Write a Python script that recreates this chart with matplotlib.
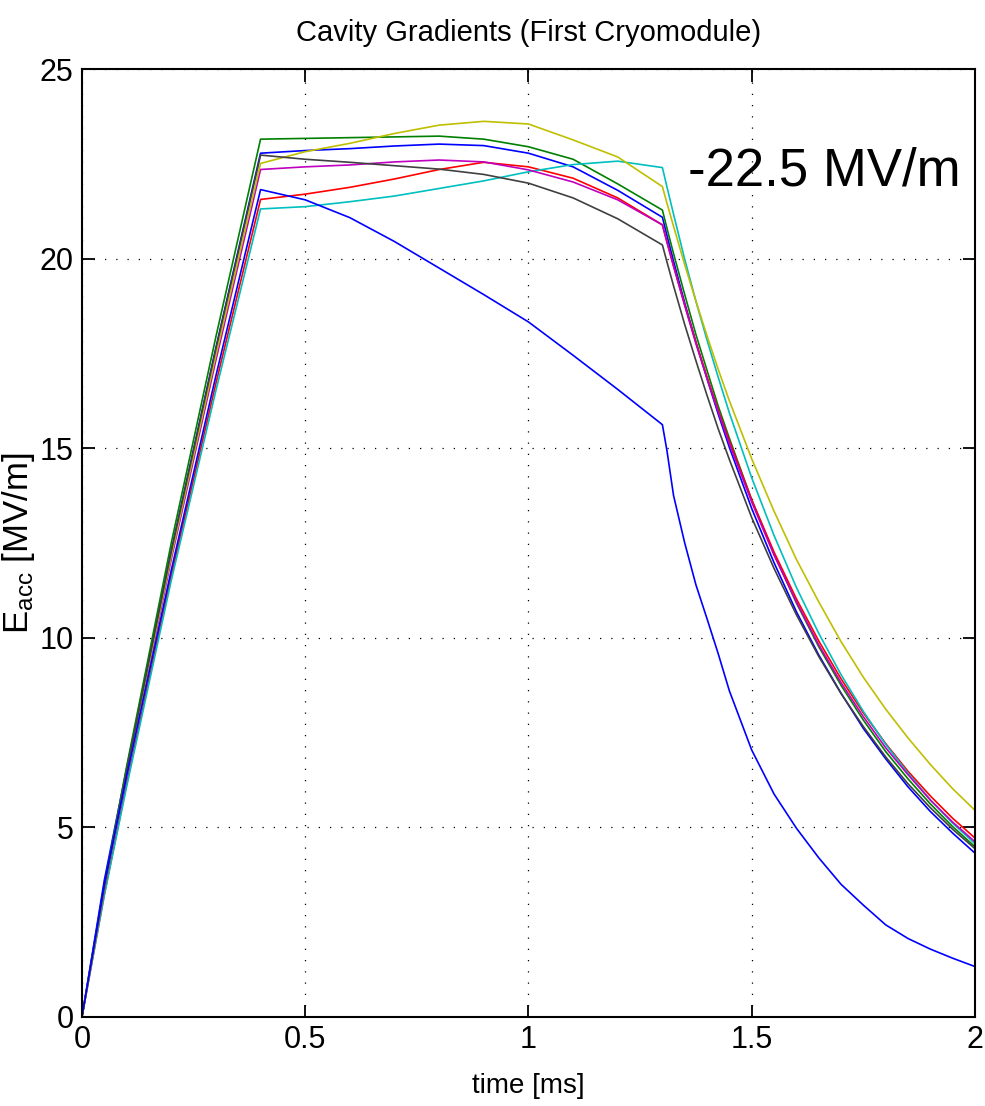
import matplotlib
matplotlib.use("Agg")
import matplotlib.pyplot as plt

plt.rcParams['font.family'] = ['Liberation Sans', 'DejaVu Sans']
plt.rcParams['mathtext.default'] = 'regular'

# sample times [ms]
time_ms = [0, 0.05, 0.1, 0.2, 0.3, 0.4, 0.5, 0.6, 0.7, 0.8, 0.9, 1.0, 1.1, 1.2, 1.3,
           1.31, 1.325, 1.35, 1.375, 1.4, 1.425, 1.45, 1.5, 1.55, 1.6, 1.65, 1.7,
           1.75, 1.8, 1.85, 1.9, 1.95, 2.0]

# accelerating gradient per cavity [MV/m]
cav1 = [0, 3.6, 6.55, 12.3, 17.65, 22.78, 22.85, 22.90, 22.97, 23.02, 22.98, 22.78, 22.42, 21.8, 21.09,
        20.62, 19.93, 18.83, 17.80, 16.83, 15.90, 15.02, 13.41, 11.98, 10.69, 9.55, 8.54,
        7.61, 6.81, 6.07, 5.42, 4.85, 4.32]
cav2 = [0, 3.47, 6.60, 12.50, 17.94, 23.15, 23.17, 23.19, 23.21, 23.23, 23.15, 22.95, 22.62, 21.97, 21.28,
        20.81, 20.13, 19.05, 18.00, 17.05, 16.11, 15.26, 13.64, 12.21, 10.92, 9.77, 8.75,
        7.83, 7.00, 6.28, 5.62, 5.02, 4.49]
cav3 = [0, 3.23, 6.14, 11.64, 16.71, 21.56, 21.70, 21.88, 22.10, 22.35, 22.54, 22.42, 22.12, 21.6, 20.89,
        20.45, 19.80, 18.78, 17.80, 16.88, 16.00, 15.19, 13.64, 12.26, 11.03, 9.92, 8.92,
        8.02, 7.21, 6.48, 5.83, 5.24, 4.72]
cav4 = [0, 3.20, 6.07, 11.51, 16.52, 21.31, 21.37, 21.50, 21.65, 21.85, 22.05, 22.29, 22.48, 22.57, 22.40,
        21.90, 21.17, 19.98, 18.88, 17.85, 16.87, 15.93, 14.22, 12.70, 11.33, 10.12, 9.03,
        8.06, 7.19, 6.43, 5.73, 5.11, 4.57]
cav5 = [0, 3.35, 6.37, 12.07, 17.32, 22.35, 22.42, 22.47, 22.55, 22.60, 22.55, 22.34, 22.02, 21.55, 20.89,
        20.44, 19.80, 18.76, 17.76, 16.84, 15.96, 15.12, 13.58, 12.18, 10.95, 9.82, 8.82,
        7.92, 7.10, 6.39, 5.72, 5.14, 4.62]
cav6 = [0, 3.38, 6.42, 12.16, 17.45, 22.51, 22.82, 23.04, 23.30, 23.52, 23.62, 23.55, 23.13, 22.68, 21.90,
        21.47, 20.85, 19.84, 18.88, 17.96, 17.08, 16.25, 14.72, 13.34, 12.07, 10.95, 9.90,
        8.96, 8.12, 7.36, 6.66, 6.02, 5.45]
cav7 = [0, 3.41, 6.48, 12.27, 17.62, 22.73, 22.62, 22.54, 22.45, 22.36, 22.22, 21.99, 21.60, 21.05, 20.36,
        19.92, 19.28, 18.26, 17.31, 16.39, 15.51, 14.70, 13.17, 11.83, 10.61, 9.51, 8.53,
        7.66, 6.86, 6.15, 5.52, 4.95, 4.44]
cav8 = [0, 3.5, 6.35, 11.78, 16.91, 21.82, 21.55, 21.08, 20.45, 19.75, 19.05, 18.33, 17.45, 16.55, 15.62,
        14.95, 13.75, 12.5, 11.4, 10.5, 9.58, 8.6, 7.04, 5.88, 4.98, 4.2, 3.5,
        2.95, 2.43, 2.07, 1.79, 1.55, 1.33]

cavities = [cav1, cav2, cav3, cav4, cav5, cav6, cav7, cav8]
colors = [(0, 0, 1), (0, 0.5, 0), (1, 0, 0), (0, 0.75, 0.75),
          (0.75, 0, 0.75), (0.75, 0.75, 0), (0.25, 0.25, 0.25), (0, 0, 1)]

fig = plt.figure(figsize=(9.85, 11.06), dpi=100)
ax = fig.add_axes([0.0832, 0.0805, 0.9066, 0.8571])

for vals, c in zip(cavities, colors):
    ax.plot(time_ms, vals, color=c, linewidth=1.2)

ax.set_xlim(0, 2)
ax.set_ylim(0, 25)
ax.set_xticks([0, 0.5, 1, 1.5, 2])
ax.set_xticklabels(['0', '0.5', '1', '1.5', '2'])
ax.set_yticks([0, 5, 10, 15, 20, 25])
ax.grid(True, color='black', linestyle=(0, (1, 8)), linewidth=0.9)
ax.tick_params(direction='in', length=9, width=1.3, top=True, right=True,
               labelsize=22, pad=6)
for s in ax.spines.values():
    s.set_linewidth(1.5)

ax.set_title('Cavity Gradients (First Cryomodule)', fontsize=21, pad=20)
ax.set_xlabel('time [ms]', fontsize=20, labelpad=13)
ax.set_ylabel('E$_{acc}$ [MV/m]', fontsize=25, labelpad=2)

ax.text(1.357, 21.94, '-22.5 MV/m', fontsize=38, ha='left', va='baseline')

fig.savefig('out.png', dpi=100)
